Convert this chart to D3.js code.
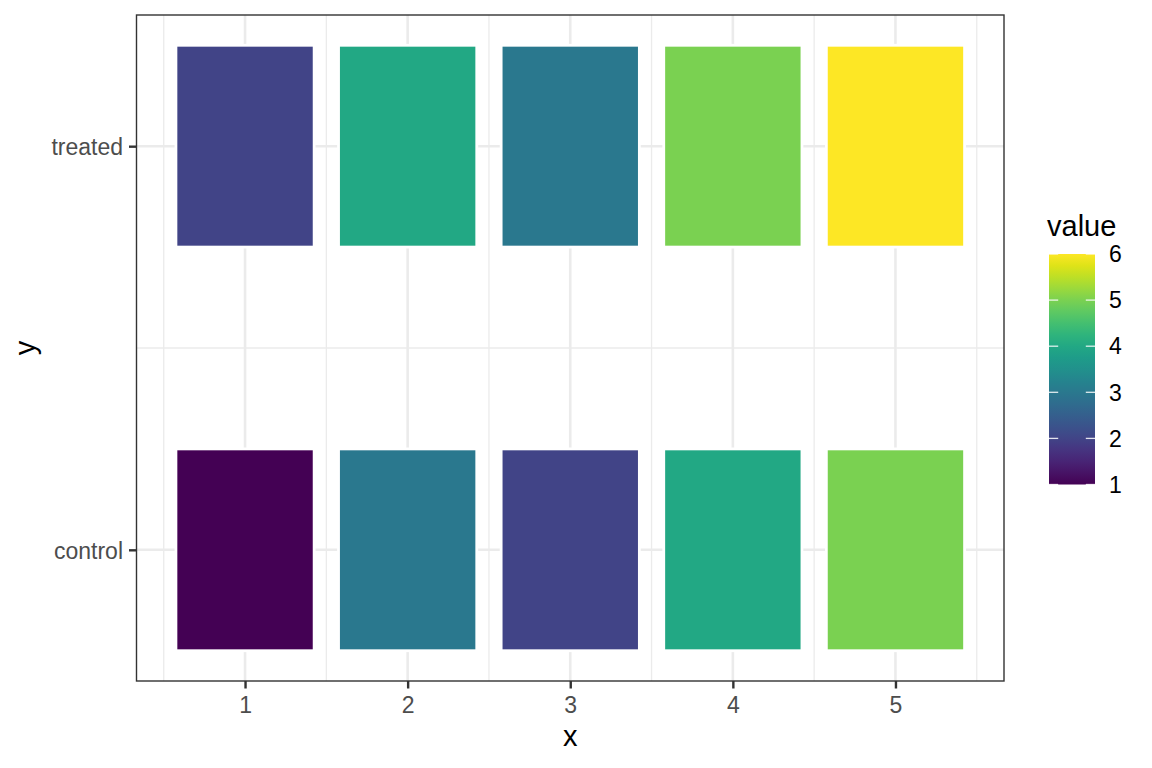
<!DOCTYPE html>
<html>
<head>
<meta charset="utf-8">
<script src="https://cdn.jsdelivr.net/npm/d3@7"></script>
<style>
  html, body { margin: 0; padding: 0; background: #fff; }
  text { font-family: "Liberation Sans", Arial, sans-serif; }
</style>
</head>
<body>
<svg id="chart" width="1152" height="768"></svg>
<script>
// ---- data ----
const xValues = [1, 2, 3, 4, 5];
const yCategories = ["control", "treated"];
const treatedValues = [2, 4, 3, 5, 6];
const controlValues = [1, 3, 2, 4, 5];
const xTicks = [1, 2, 3, 4, 5];
const legendTicks = [1, 2, 3, 4, 5, 6];

const cells = [];
xValues.forEach((x, i) => {
  cells.push({ x: x, y: "treated", value: treatedValues[i] });
  cells.push({ x: x, y: "control", value: controlValues[i] });
});

// ---- layout ----
const svg = d3.select("#chart");
const panel = { left: 136.5, right: 1004, top: 15, bottom: 681 };
const tileW = 0.85, tileH = 0.5;

const xMin = d3.min(xValues) - tileW / 2, xMax = d3.max(xValues) + tileW / 2;
const xPad = (xMax - xMin) * 0.05;
const x = d3.scaleLinear().domain([xMin - xPad, xMax + xPad]).range([panel.left, panel.right]);

const yIndex = c => yCategories.indexOf(c) + 1;
const yMin = 1 - tileH / 2, yMax = yCategories.length + tileH / 2;
const yPad = (yMax - yMin) * 0.05;
const y = d3.scaleLinear().domain([yMin - yPad, yMax + yPad]).range([panel.bottom, panel.top]);

const color = d3.scaleSequential(d3.interpolateViridis).domain([1, 6]);

const g = svg.append("g");

// panel background
g.append("rect").attr("x", panel.left).attr("y", panel.top)
  .attr("width", panel.right - panel.left).attr("height", panel.bottom - panel.top)
  .attr("fill", "#fff");

// minor grid
const xMinor = [0.5, 1.5, 2.5, 3.5, 4.5, 5.5];
g.selectAll(".xminor").data(xMinor).enter().append("line")
  .attr("x1", d => x(d)).attr("x2", d => x(d))
  .attr("y1", panel.top).attr("y2", panel.bottom)
  .attr("stroke", "#EBEBEB").attr("stroke-width", 1.3);
g.selectAll(".yminor").data([1.5]).enter().append("line")
  .attr("y1", d => y(d)).attr("y2", d => y(d))
  .attr("x1", panel.left).attr("x2", panel.right)
  .attr("stroke", "#EBEBEB").attr("stroke-width", 1.3);

// major grid
g.selectAll(".xmajor").data(xTicks).enter().append("line")
  .attr("x1", d => x(d)).attr("x2", d => x(d))
  .attr("y1", panel.top).attr("y2", panel.bottom)
  .attr("stroke", "#EBEBEB").attr("stroke-width", 2.6);
g.selectAll(".ymajor").data(yCategories).enter().append("line")
  .attr("y1", d => y(yIndex(d))).attr("y2", d => y(yIndex(d)))
  .attr("x1", panel.left).attr("x2", panel.right)
  .attr("stroke", "#EBEBEB").attr("stroke-width", 2.6);

// tiles
g.selectAll(".tile").data(cells).enter().append("rect")
  .attr("x", d => x(d.x - tileW / 2))
  .attr("width", d => x(d.x + tileW / 2) - x(d.x - tileW / 2))
  .attr("y", d => y(yIndex(d.y) + tileH / 2))
  .attr("height", d => y(yIndex(d.y) - tileH / 2) - y(yIndex(d.y) + tileH / 2))
  .attr("fill", d => color(d.value))
  .attr("stroke", "#fff").attr("stroke-width", 2.8);

// panel border
g.append("rect").attr("x", panel.left).attr("y", panel.top)
  .attr("width", panel.right - panel.left).attr("height", panel.bottom - panel.top)
  .attr("fill", "none").attr("stroke", "#333333").attr("stroke-width", 1.4);

// x axis
const xAxis = g.append("g").attr("transform", `translate(0,${panel.bottom})`)
  .call(d3.axisBottom(x).tickValues(xTicks).tickSize(7.5).tickPadding(8).tickFormat(d3.format("d")));
xAxis.select(".domain").remove();
xAxis.selectAll(".tick line").attr("stroke", "#333333").attr("stroke-width", 2.4);
xAxis.selectAll(".tick text").attr("fill", "#4D4D4D").attr("font-size", 23)
  .attr("font-family", "Liberation Sans, Arial, sans-serif").attr("dy", "0.72em");

// y axis
const yAxis = g.append("g").attr("transform", `translate(${panel.left},0)`)
  .call(d3.axisLeft(y).tickValues(yCategories.map(yIndex)).tickSize(7.5).tickPadding(6)
    .tickFormat(i => yCategories[i - 1]));
yAxis.select(".domain").remove();
yAxis.selectAll(".tick line").attr("stroke", "#333333").attr("stroke-width", 2.4);
yAxis.selectAll(".tick text").attr("fill", "#4D4D4D").attr("font-size", 23)
  .attr("font-family", "Liberation Sans, Arial, sans-serif").attr("dy", "0.36em");

// axis titles
svg.append("text").attr("x", (panel.left + panel.right) / 2).attr("y", 746)
  .attr("text-anchor", "middle").attr("font-size", 29).attr("fill", "#000").text("x");
svg.append("text").attr("transform", `translate(35,${(panel.top + panel.bottom) / 2}) rotate(-90)`)
  .attr("text-anchor", "middle").attr("font-size", 29).attr("fill", "#000").text("y");

// legend
const leg = { x: 1049, w: 46, top: 254, bottom: 484.5 };
const ly = d3.scaleLinear().domain([1, 6]).range([leg.bottom, leg.top]);
const defs = svg.append("defs");
const grad = defs.append("linearGradient").attr("id", "vgrad")
  .attr("x1", "0").attr("y1", "1").attr("x2", "0").attr("y2", "0");
d3.range(0, 1.0001, 0.05).forEach(t => {
  grad.append("stop").attr("offset", t).attr("stop-color", color(1 + 5 * t));
});
svg.append("rect").attr("x", leg.x).attr("y", leg.top).attr("width", leg.w)
  .attr("height", leg.bottom - leg.top).attr("fill", "url(#vgrad)");

const tl = leg.w / 5;
svg.selectAll(".ltl").data(legendTicks).enter().append("line")
  .attr("x1", leg.x).attr("x2", leg.x + tl)
  .attr("y1", d => ly(d)).attr("y2", d => ly(d))
  .attr("stroke", "#fff").attr("stroke-opacity", 0.85).attr("stroke-width", 1.3);
svg.selectAll(".ltr").data(legendTicks).enter().append("line")
  .attr("x1", leg.x + leg.w - tl).attr("x2", leg.x + leg.w)
  .attr("y1", d => ly(d)).attr("y2", d => ly(d))
  .attr("stroke", "#fff").attr("stroke-opacity", 0.85).attr("stroke-width", 1.3);

svg.selectAll(".llab").data(legendTicks).enter().append("text")
  .attr("x", 1109).attr("y", d => ly(d)).attr("dy", "0.36em")
  .attr("font-size", 23).attr("fill", "#000").text(d => d);

svg.append("text").attr("x", 1047).attr("y", 236).attr("font-size", 29)
  .attr("fill", "#000").text("value");
</script>
</body>
</html>
